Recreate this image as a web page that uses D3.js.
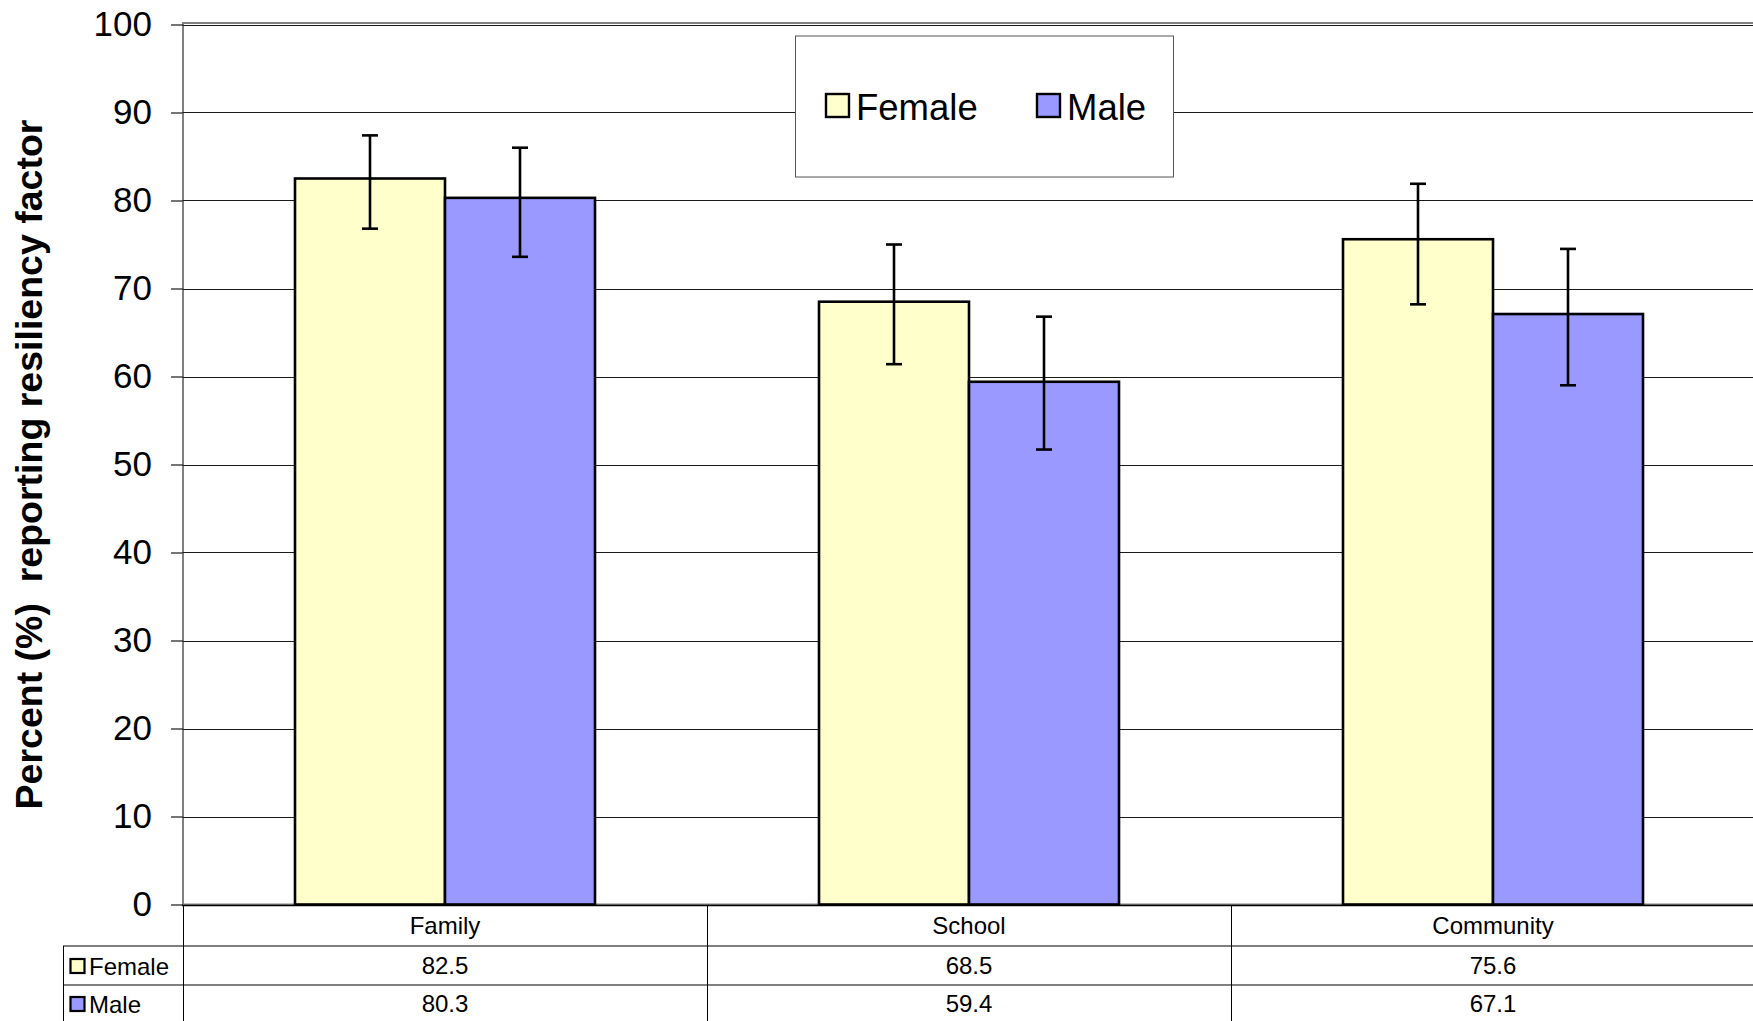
<!DOCTYPE html>
<html>
<head>
<meta charset="utf-8">
<script src="https://cdn.jsdelivr.net/npm/d3@7"></script>
<style>
  html, body { margin: 0; padding: 0; background: #fff; }
  svg { display: block; font-family: Arial, "Liberation Sans", sans-serif; }
</style>
</head>
<body>
<svg id="chart" width="1753" height="1021"></svg>
<script>
// ---- data ----
const categories = ["Family", "School", "Community"];
const seriesNames = ["Female", "Male"];
const femaleValues = [82.5, 68.5, 75.6];
const maleValues = [80.3, 59.4, 67.1];
const femaleErrHigh = [87.4, 75.0, 81.9];
const femaleErrLow = [76.8, 61.4, 68.2];
const maleErrHigh = [86.0, 66.8, 74.5];
const maleErrLow = [73.6, 51.7, 59.0];
const yTicks = [0, 10, 20, 30, 40, 50, 60, 70, 80, 90, 100];
const yTitle = "Percent (%)  reporting resiliency factor";
const seriesColors = ["#FFFFCC", "#9999FF"];

const seriesValues = [femaleValues, maleValues];
const seriesHigh = [femaleErrHigh, maleErrHigh];
const seriesLow = [femaleErrLow, maleErrLow];

// ---- layout ----
const W = 1753, H = 1021;
const plotLeft = 183, plotTop = 24.5, plotBottom = 904.5;
const catWidth = 524;
const plotRight = plotLeft + catWidth * categories.length;

const svg = d3.select("#chart");

const y = d3.scaleLinear().domain([0, 100]).range([plotBottom, plotTop]);
const x0 = d3.scaleBand().domain(categories).range([plotLeft, plotRight]).padding(0);
const x1 = d3.scaleBand().domain(seriesNames).range([112, 412]).padding(0);

// plot frame
svg.append("rect")
  .attr("x", plotLeft).attr("y", 23)
  .attr("width", W - plotLeft + 10).attr("height", plotBottom - 23)
  .attr("fill", "#fff").attr("stroke", "#808080").attr("stroke-width", 2);

// gridlines
svg.append("g").selectAll("line").data(yTicks).join("line")
  .attr("x1", plotLeft).attr("x2", W)
  .attr("y1", d => Math.round(y(d)) + 0.5).attr("y2", d => Math.round(y(d)) + 0.5)
  .attr("stroke", "#1a1a1a").attr("stroke-width", 1.2);

// y axis
const yAxis = d3.axisLeft(y).tickValues(yTicks).tickSize(12).tickPadding(19);
const gy = svg.append("g").attr("transform", `translate(${plotLeft},0)`).call(yAxis);
gy.select(".domain").remove();
gy.selectAll(".tick line").attr("stroke", "#1a1a1a").attr("stroke-width", 1.2);
gy.selectAll(".tick text")
  .attr("font-size", 35).attr("fill", "#000")
  .attr("font-family", "Arial, 'Liberation Sans', sans-serif");

// y title
svg.append("text")
  .attr("transform", `translate(42,${(plotTop + plotBottom) / 2}) rotate(-90)`)
  .attr("text-anchor", "middle")
  .attr("font-size", 37.5).attr("font-weight", "bold")
  .attr("xml:space", "preserve")
  .style("white-space", "pre")
  .text(yTitle);

// bars
const groups = svg.append("g").selectAll("g").data(categories).join("g")
  .attr("transform", d => `translate(${x0(d)},0)`);

groups.each(function(cat, ci) {
  const g = d3.select(this);
  seriesNames.forEach((s, si) => {
    const v = seriesValues[si][ci];
    g.append("rect")
      .attr("x", x1(s)).attr("y", y(v))
      .attr("width", x1.bandwidth()).attr("height", y(0) - y(v))
      .attr("fill", seriesColors[si]).attr("stroke", "#000").attr("stroke-width", 2.6);
  });
  seriesNames.forEach((s, si) => {
    const cx = x1(s) + x1.bandwidth() / 2;
    const hi = y(seriesHigh[si][ci]), lo = y(seriesLow[si][ci]);
    g.append("line").attr("x1", cx).attr("x2", cx).attr("y1", hi).attr("y2", lo)
      .attr("stroke", "#000").attr("stroke-width", 2.6);
    [hi, lo].forEach(yy => {
      g.append("line").attr("x1", cx - 8).attr("x2", cx + 8).attr("y1", yy).attr("y2", yy)
        .attr("stroke", "#000").attr("stroke-width", 2.6);
    });
  });
});

// baseline
svg.append("line").attr("x1", plotLeft - 1).attr("x2", W)
  .attr("y1", y(0) + 1).attr("y2", y(0) + 1)
  .attr("stroke", "#000").attr("stroke-width", 1.5);

// legend
const legend = svg.append("g");
legend.append("rect").attr("x", 795.5).attr("y", 36).attr("width", 378).attr("height", 141)
  .attr("fill", "#fff").attr("stroke", "#555").attr("stroke-width", 1);
const legendX = [826, 1037];
seriesNames.forEach((s, i) => {
  legend.append("rect").attr("x", legendX[i]).attr("y", 94).attr("width", 23).attr("height", 23)
    .attr("fill", seriesColors[i]).attr("stroke", "#000").attr("stroke-width", 2.4);
  legend.append("text").attr("x", legendX[i] + 30).attr("y", 120)
    .attr("font-size", 36.5).text(s);
});

// data table
const rowBase = [974, 1012];
const table = svg.append("g");
[946, 985].forEach(ry => {
  table.append("line").attr("x1", 63).attr("x2", W).attr("y1", ry).attr("y2", ry)
    .attr("stroke", "#808080").attr("stroke-width", 2);
});
table.append("line").attr("x1", 63.5).attr("x2", 63.5).attr("y1", 946).attr("y2", H)
  .attr("stroke", "#000").attr("stroke-width", 1);
categories.forEach((c, i) => {
  const xx = Math.round(x0(c)) + 0.5;
  const cx = x0(c) + x0.bandwidth() / 2;
  table.append("line").attr("x1", xx).attr("x2", xx).attr("y1", plotBottom + 1).attr("y2", H)
    .attr("stroke", "#000").attr("stroke-width", 1);
  table.append("text").attr("x", cx).attr("y", 934)
    .attr("text-anchor", "middle").attr("font-size", 24).text(c);
  seriesNames.forEach((s, si) => {
    table.append("text").attr("x", cx).attr("y", rowBase[si])
      .attr("text-anchor", "middle").attr("font-size", 24).text(seriesValues[si][i].toFixed(1));
  });
});
seriesNames.forEach((s, si) => {
  const base = rowBase[si];
  table.append("rect").attr("x", 70.5).attr("y", base - 15).attr("width", 14).attr("height", 14)
    .attr("fill", seriesColors[si]).attr("stroke", "#000").attr("stroke-width", 2.2);
  table.append("text").attr("x", 89).attr("y", base + 1).attr("font-size", 24).text(s);
});
</script>
</body>
</html>
